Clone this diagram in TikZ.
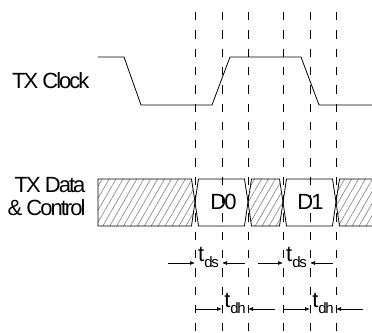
\documentclass[tikz,border=0pt]{standalone}
\usepackage{fontspec}
\setmainfont{Liberation Sans}
\newfontfamily\sigfont[LetterSpace=-9]{Liberation Sans}
\usetikzlibrary{patterns.meta,arrows.meta}
\newcommand{\tsub}[1]{t\raisebox{-6pt}{\fontsize{15}{15}\selectfont #1}}

\begin{document}
\begin{tikzpicture}[x=1pt,y=-1pt,
	sig/.style={font=\fontsize{22}{23}\sigfont},
	wave/.style={line width=0.8pt},
	hatch/.style={pattern={Lines[angle=60,distance=6pt,line width=0.6pt]},pattern color=gray},
	guide/.style={line width=1pt,dash pattern=on 8.3pt off 10pt},
	dim/.style={line width=0.7pt,-{Latex[length=5pt,width=4pt]}}]
	\useasboundingbox (0,0) rectangle (372,332);
	% guide lines
	\foreach \x [count=\i] in {195,222,248,283,310,336}{
		\coordinate (g\i) at (\x,12);
		\coordinate (h\i) at (\x,332);
		\draw[guide] (g\i) -- (h\i);
	}
	% clock
	\draw[wave] (98,57) -- (124,57) -- (141,105) -- (212,105) -- (230,57) -- (301,57) -- (319,105) -- (372,105);
	\node[sig,anchor=east] (clk) at (93,81) {TX Clock};
	% data bus
	\node[sig,anchor=east,align=right] (dat) at (89,197) {TX Data\\\& Control};
	\draw[wave,hatch] (98,179) -- (191.5,179) -- (195,202) -- (191.5,226) -- (98,226) -- cycle;
	\draw[wave] (195,202) -- (198.5,179) -- (244.5,179) -- (248,202) -- (244.5,226) -- (198.5,226) -- cycle;
	\draw[wave,hatch] (248,202) -- (251.5,179) -- (279.5,179) -- (283,202) -- (279.5,226) -- (251.5,226) -- cycle;
	\draw[wave] (283,202) -- (286.5,179) -- (332.5,179) -- (336,202) -- (332.5,226) -- (286.5,226) -- cycle;
	\fill[hatch] (336,202) -- (339.5,179) -- (372,179) -- (372,226) -- (339.5,226) -- cycle;
	\draw[wave] (372,179) -- (339.5,179) -- (336,202) -- (339.5,226) -- (372,226);
	\node[sig] (d0) at (223.5,202) {D0};
	\node[sig] (d1) at (310.5,202) {D1};
	% setup and hold
	\foreach \xa/\xb/\xc/\xd/\y/\lab [count=\i] in {168/195/222/245/263/ds,258/283/310/333/263/ds,195/222/248/275/309/dh,283/310/336/363/309/dh}{
		\coordinate (p\i) at (\xa,\y);
		\coordinate (q\i) at (\xb,\y);
		\coordinate (r\i) at (\xc,\y);
		\coordinate (s\i) at (\xd,\y);
		\draw[dim] (p\i) -- (q\i);
		\draw[dim] (s\i) -- (r\i);
		\node[sig,anchor=base] (t\i) at ({(\xb+\xc)/2},\y-2) {\tsub{\lab}};
	}
\end{tikzpicture}
\end{document}
